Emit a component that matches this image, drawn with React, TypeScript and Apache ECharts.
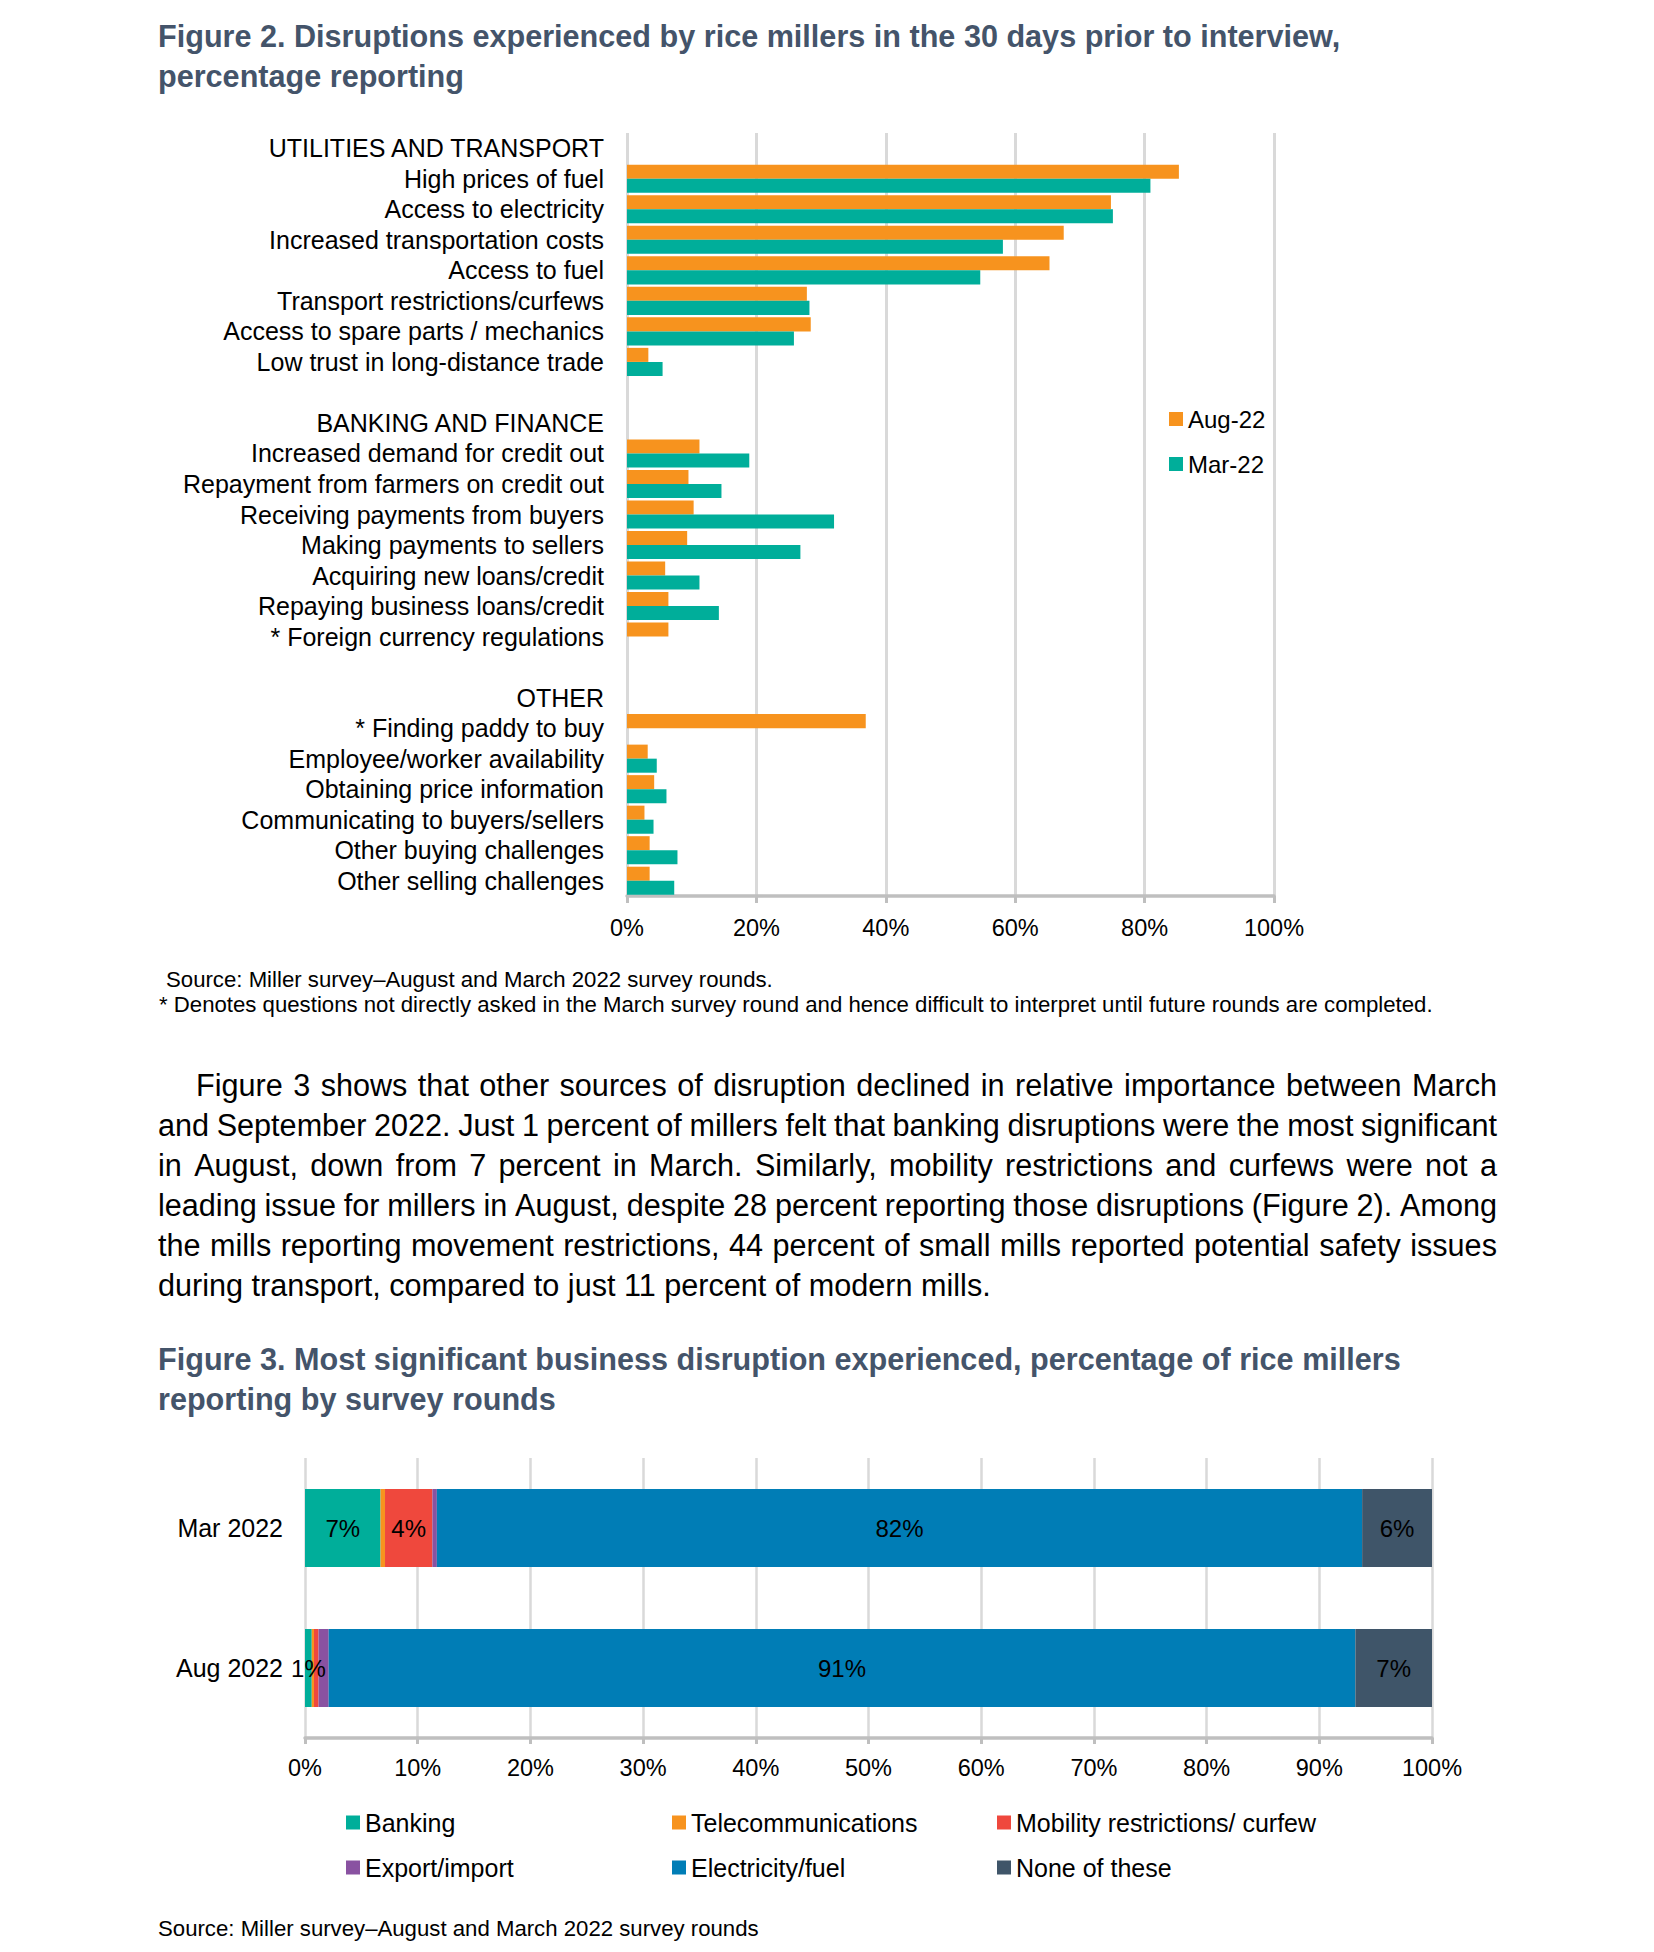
import React, { useEffect, useRef } from "react";
import * as echarts from "echarts";

const FONT = '"Liberation Sans", Arial, Helvetica, sans-serif';

// ---------- Figure 2 data ----------
const FIG2_CATEGORIES = [
  "UTILITIES AND TRANSPORT",
  "High prices of fuel",
  "Access to electricity",
  "Increased transportation costs",
  "Access to fuel",
  "Transport restrictions/curfews",
  "Access to spare parts / mechanics",
  "Low trust in long-distance trade",
  " ",
  "BANKING AND FINANCE",
  "Increased demand for credit out",
  "Repayment from farmers on credit out",
  "Receiving payments from buyers",
  "Making payments to sellers",
  "Acquiring new loans/credit",
  "Repaying business loans/credit",
  "* Foreign currency regulations",
  "  ",
  "OTHER",
  "* Finding paddy to buy",
  "Employee/worker availability",
  "Obtaining price information",
  "Communicating to buyers/sellers",
  "Other buying challenges",
  "Other selling challenges",
];
const FIG2_AUG22 = [
  null, 85.3, 74.8, 67.5, 65.3, 27.8, 28.4, 3.3,
  null, null, 11.2, 9.5, 10.3, 9.3, 5.9, 6.4, 6.4,
  null, null, 36.9, 3.2, 4.2, 2.7, 3.5, 3.5,
];
const FIG2_MAR22 = [
  null, 80.9, 75.1, 58.1, 54.6, 28.2, 25.8, 5.5,
  null, null, 18.9, 14.6, 32.0, 26.8, 11.2, 14.2, null,
  null, null, null, 4.6, 6.1, 4.1, 7.8, 7.3,
];
const FIG2_SERIES_NAMES = ["Aug-22", "Mar-22"];

// ---------- Figure 3 data ----------
const FIG3_ROUNDS = ["Mar 2022", "Aug 2022"];
const FIG3_BANKING = [6.7, 0.6];
const FIG3_TELECOM = [0.4, 0.2];
const FIG3_MOBILITY = [4.2, 0.4];
const FIG3_EXPORT = [0.4, 0.9];
const FIG3_ELECTRICITY = [82.1, 91.1];
const FIG3_NONE = [6.2, 6.8];
const FIG3_NAMES = [
  "Banking",
  "Telecommunications",
  "Mobility restrictions/ curfew",
  "Export/import",
  "Electricity/fuel",
  "None of these",
];
const FIG3_LABELLED: Record<string, string[]> = {
  "Mar 2022": ["Banking", "Mobility restrictions/ curfew", "Electricity/fuel", "None of these"],
  "Aug 2022": ["Banking", "Electricity/fuel", "None of these"],
};

// ---------- Text ----------
const TITLE2 = [
  "Figure 2. Disruptions experienced by rice millers in the 30 days prior to interview,",
  "percentage reporting",
];
const TITLE3 = [
  "Figure 3. Most significant business disruption experienced, percentage of rice millers",
  "reporting by survey rounds",
];
const NOTE_SOURCE2 = "Source: Miller survey\u2013August and March 2022 survey rounds.";
const NOTE_STAR = "* Denotes questions not directly asked in the March survey round and hence difficult to interpret until future rounds are completed.";
const PARAGRAPH = [
  "Figure 3 shows that other sources of disruption declined in relative importance between March",
  "and September 2022. Just 1 percent of millers felt that banking disruptions were the most significant",
  "in August, down from 7 percent in March. Similarly, mobility restrictions and curfews were not a",
  "leading issue for millers in August, despite 28 percent reporting those disruptions (Figure 2). Among",
  "the mills reporting movement restrictions, 44 percent of small mills reported potential safety issues",
  "during transport, compared to just 11 percent of modern mills.",
];
const NOTE_SOURCE3 = "Source: Miller survey\u2013August and March 2022 survey rounds";

const C_ORANGE = "#F7931E";
const C_TEAL = "#00AE9A";
const FIG3_COLORS = ["#00AE9A", "#F7931E", "#EF483D", "#8952A1", "#007DB6", "#3F5569"];
const TITLE_COLOR = "#44546A";

function Line(props: { text: string; left: number; top: number; width: number; justify: boolean; size: number; lh: number }) {
  const { text, left, top, width, justify, size, lh } = props;
  const words = text.split(" ");
  const children: React.ReactNode[] = [];
  words.forEach((w, i) => {
    children.push(
      <span key={"w" + i} style={{ flex: "0 0 auto" }}>
        {w}
      </span>
    );
    if (i < words.length - 1) {
      children.push(
        <span
          key={"s" + i}
          style={{ flex: justify ? "1 1 auto" : "0 1 auto", minWidth: 0, overflow: "hidden" }}
        >
          {" "}
        </span>
      );
    }
  });
  return (
    <div
      style={{
        position: "absolute",
        left,
        top,
        width,
        height: lh,
        display: "flex",
        whiteSpace: "pre",
        fontFamily: FONT,
        fontSize: size,
        lineHeight: lh + "px",
        color: "#000",
        zIndex: 2,
      }}
    >
      {children}
    </div>
  );
}

export default function App() {
  const ref = useRef<HTMLDivElement>(null);

  useEffect(() => {
    if (!ref.current) return;
    const chart = echarts.init(ref.current, undefined, { renderer: "svg", width: 1654, height: 1952 });

    const fig3Data = [FIG3_BANKING, FIG3_TELECOM, FIG3_MOBILITY, FIG3_EXPORT, FIG3_ELECTRICITY, FIG3_NONE];

    const legendCommon = {
      orient: "vertical",
      icon: "rect",
      itemWidth: 14,
      itemHeight: 14,
      padding: 0,
      selectedMode: false,
      textStyle: { fontFamily: FONT, fontSize: 25, color: "#000", lineHeight: 24 },
    };

    const option: any = {
      animation: false,
      textStyle: { fontFamily: FONT },
      grid: [
        { left: 627, top: 133, width: 647, height: 763, containLabel: false, outerBoundsMode: "none" },
        { left: 305, top: 1458, width: 1127, height: 280, containLabel: false, outerBoundsMode: "none" },
      ],
      xAxis: [
        {
          gridIndex: 0,
          type: "value",
          min: 0,
          max: 100,
          interval: 20,
          axisLabel: { formatter: "{value}%", fontSize: 23.5, color: "#000", margin: 20, fontFamily: FONT },
          splitLine: { show: true, lineStyle: { color: "#D9D9D9", width: 3 } },
          axisLine: { show: true, lineStyle: { color: "#BFBFBF", width: 3.5 } },
          axisTick: { show: true, length: 7, lineStyle: { color: "#BFBFBF", width: 3 } },
        },
        {
          gridIndex: 1,
          type: "value",
          min: 0,
          max: 100,
          interval: 10,
          axisLabel: { formatter: "{value}%", fontSize: 23.5, color: "#000", margin: 18, fontFamily: FONT },
          splitLine: { show: true, lineStyle: { color: "#D9D9D9", width: 2.5 } },
          axisLine: { show: true, lineStyle: { color: "#BFBFBF", width: 3.5 } },
          axisTick: { show: true, length: 6, lineStyle: { color: "#BFBFBF", width: 3 } },
        },
      ],
      yAxis: [
        {
          gridIndex: 0,
          type: "category",
          inverse: true,
          data: FIG2_CATEGORIES,
          axisLine: { show: false },
          axisTick: { show: false },
          splitLine: { show: false },
          axisLabel: { interval: 0, fontSize: 25, color: "#000", margin: 23, fontFamily: FONT },
        },
        {
          gridIndex: 1,
          type: "category",
          inverse: true,
          data: FIG3_ROUNDS,
          axisLine: { show: false },
          axisTick: { show: false },
          splitLine: { show: false },
          axisLabel: { interval: 0, fontSize: 25, color: "#000", margin: 22, fontFamily: FONT },
        },
      ],
      legend: [
        { ...legendCommon, data: FIG2_SERIES_NAMES, left: 1169, top: 407, itemGap: 21, textStyle: { ...legendCommon.textStyle, fontSize: 24 } },
        { ...legendCommon, data: [FIG3_NAMES[0], FIG3_NAMES[3]], left: 346, top: 1810, itemGap: 20 },
        { ...legendCommon, data: [FIG3_NAMES[1], FIG3_NAMES[4]], left: 672, top: 1810, itemGap: 20 },
        { ...legendCommon, data: [FIG3_NAMES[2], FIG3_NAMES[5]], left: 997, top: 1810, itemGap: 20 },
      ],
      series: [
        {
          name: FIG2_SERIES_NAMES[0],
          type: "bar",
          xAxisIndex: 0,
          yAxisIndex: 0,
          data: FIG2_AUG22,
          barGap: "0%",
          barCategoryGap: "8%",
          itemStyle: { color: C_ORANGE },
        },
        {
          name: FIG2_SERIES_NAMES[1],
          type: "bar",
          xAxisIndex: 0,
          yAxisIndex: 0,
          data: FIG2_MAR22,
          barGap: "0%",
          barCategoryGap: "8%",
          itemStyle: { color: C_TEAL },
        },
        ...FIG3_NAMES.map((name, i) => ({
          name,
          type: "bar",
          stack: "fig3",
          xAxisIndex: 1,
          yAxisIndex: 1,
          barWidth: 78,
          data: fig3Data[i],
          itemStyle: { color: FIG3_COLORS[i] },
          label: {
            show: true,
            position: "inside",
            fontSize: 24,
            color: "#000",
            fontFamily: FONT,
            formatter: (p: any) =>
              (FIG3_LABELLED[p.name] || []).includes(p.seriesName) ? Math.round(p.value) + "%" : "",
          },
        })),
      ],
    };

    chart.setOption(option);
    return () => chart.dispose();
  }, []);

  const titleStyle: React.CSSProperties = {
    position: "absolute",
    left: 158,
    fontFamily: FONT,
    fontWeight: "bold",
    fontSize: 30.6,
    lineHeight: "40px",
    color: TITLE_COLOR,
    whiteSpace: "pre",
    zIndex: 2,
  };
  const noteStyle: React.CSSProperties = {
    position: "absolute",
    fontFamily: FONT,
    fontSize: 22.2,
    lineHeight: "25px",
    color: "#000",
    whiteSpace: "pre",
    zIndex: 2,
  };

  return (
    <div style={{ position: "absolute", left: 0, top: 0, width: 1654, height: 1952, background: "#fff", overflow: "hidden" }}>
      <div ref={ref} style={{ position: "absolute", left: 0, top: 0, width: 1654, height: 1952 }} />
      <div style={{ ...titleStyle, top: 15.5 }}>
        {TITLE2[0]}
        <br />
        {TITLE2[1]}
      </div>
      <div style={{ ...noteStyle, left: 166, top: 967 }}>{NOTE_SOURCE2}</div>
      <div style={{ ...noteStyle, left: 159, top: 992 }}>{NOTE_STAR}</div>
      {PARAGRAPH.map((t, i) => (
        <Line
          key={i}
          text={t}
          left={i === 0 ? 196 : 158}
          top={1065.3 + i * 40}
          width={i === 0 ? 1301 : 1339}
          justify={i < PARAGRAPH.length - 1}
          size={30.6}
          lh={40}
        />
      ))}
      <div style={{ ...titleStyle, top: 1339 }}>
        {TITLE3[0]}
        <br />
        {TITLE3[1]}
      </div>
      <div style={{ ...noteStyle, fontSize: 22.2, lineHeight: "22px", left: 158, top: 1918 }}>{NOTE_SOURCE3}</div>
    </div>
  );
}
